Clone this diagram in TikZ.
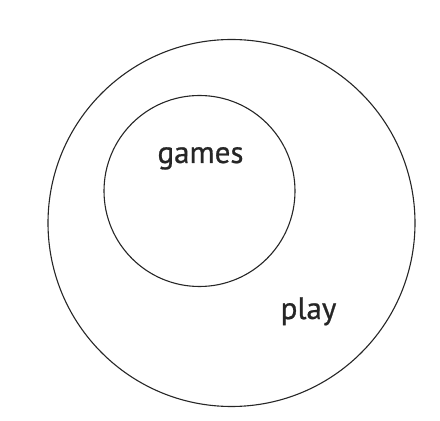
\documentclass[tikz,border=0pt]{standalone}
\usepackage{fontspec}
\setmainfont{PT Sans}
\newfontfamily\lblfont{PT Sans}[BoldFont=PT Sans,BoldFeatures={FakeBold=0.8}]
\begin{document}
\begin{tikzpicture}[x=1pt,y=1pt,
  ring/.style={circle,draw=black!85,line width=1.1pt,inner sep=0pt},
  lbl/.style={font=\lblfont\bfseries\fontsize{31}{36}\selectfont,text=black!85,inner sep=0pt}]
\useasboundingbox (0,0) rectangle (440,421);
\node[ring,minimum size=367] (outer) at (231.5,198) {};
\node[ring,minimum size=191] (inner) at (199.5,230) {};
\node[lbl,anchor=base] (games) at (200.5,258) {games};
\node[lbl,anchor=base] (play) at (308.5,102) {play};
\end{tikzpicture}
\end{document}
